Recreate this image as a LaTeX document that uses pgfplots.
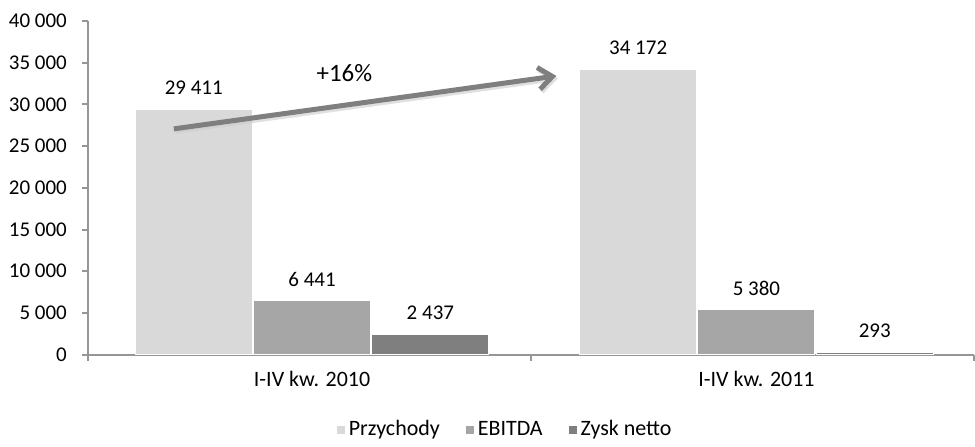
\documentclass[border=0pt]{standalone}
\usepackage{fontspec}
\setmainfont{Carlito}
\usepackage{pgfplots}
\pgfplotsset{compat=1.18}
\usetikzlibrary{arrows.meta}
\definecolor{cA}{HTML}{D9D9D9}
\definecolor{cB}{HTML}{A6A6A6}
\definecolor{cC}{HTML}{7F7F7F}
\definecolor{axg}{HTML}{969696}
\begin{document}
\begin{tikzpicture}
\pgfkeys{/pgf/number format/.cd, assume math mode=true, fixed, 1000 sep={\ }}
\begin{axis}[
  at={(0,0)}, anchor=south west,
  scale only axis, width=443.5pt, height=167pt,
  xmin=-0.5, xmax=1.5, ymin=0, ymax=40000,
  axis lines*=left,
  axis line style={axg, line width=1pt},
  xtick={0.006,1.009}, xticklabels={I-IV kw. 2010, I-IV kw. 2011},
  minor xtick={-0.5,0.5,1.5},
  major x tick style={draw=none},
  minor x tick style={axg, line width=1pt},
  ytick={0,5000,...,40000},
  major y tick style={axg, line width=1pt},
  tick align=outside, major tick length=3pt, minor tick length=3pt,
  scaled y ticks=false,
  ticklabel style={font=\fontsize{10.5}{12}\selectfont, text=black},
  xticklabel style={yshift=-2pt, font=\fontsize{11}{13}\selectfont},
  yticklabel style={xshift=-4pt},
  legend style={at={(0.472,-0.225)}, anchor=center, legend columns=-1, draw=none,
    font=\fontsize{11}{13}\selectfont,
    /tikz/every even column/.append style={column sep=11pt}},
  legend image code/.code={\fill[#1, draw=none] (0pt,-2pt) rectangle (4pt,2pt);},
  nodes near coords style={font=\fontsize{10.5}{12}\selectfont, text=black, anchor=south, inner sep=0pt, yshift=7pt},
]
\addplot[ybar, bar width=0.264, bar shift=0, fill=cA, draw=white, line width=0.5pt, nodes near coords]
  coordinates {(-0.261,29411) (0.742,34172)};
\addplot[ybar, bar width=0.264, bar shift=0, fill=cB, draw=white, line width=0.5pt, nodes near coords]
  coordinates {(0.006,6441) (1.009,5380)};
\addplot[ybar, bar width=0.264, bar shift=0, fill=cC, draw=white, line width=0.5pt, nodes near coords]
  coordinates {(0.273,2437) (1.276,293)};
\legend{Przychody, EBITDA, Zysk netto}
\draw[-{Straight Barb[length=7pt, width=11pt]}, line width=2.5pt, black!20, opacity=0.6, transform canvas={xshift=0.8pt, yshift=-1.2pt}]
  (axis cs:-0.306,27066) -- (axis cs:0.5575,33413);
\draw[-{Straight Barb[length=7pt, width=11pt]}, line width=2.5pt, cC]
  (axis cs:-0.306,27066) -- (axis cs:0.5575,33413);
\node[font=\fontsize{12.5}{14}\selectfont] at (axis cs:0.079,33700) {+16\%};
\end{axis}
\path[use as bounding box] (-44pt,-43.5pt) rectangle (443.5pt,177.5pt);
\end{tikzpicture}
\end{document}
